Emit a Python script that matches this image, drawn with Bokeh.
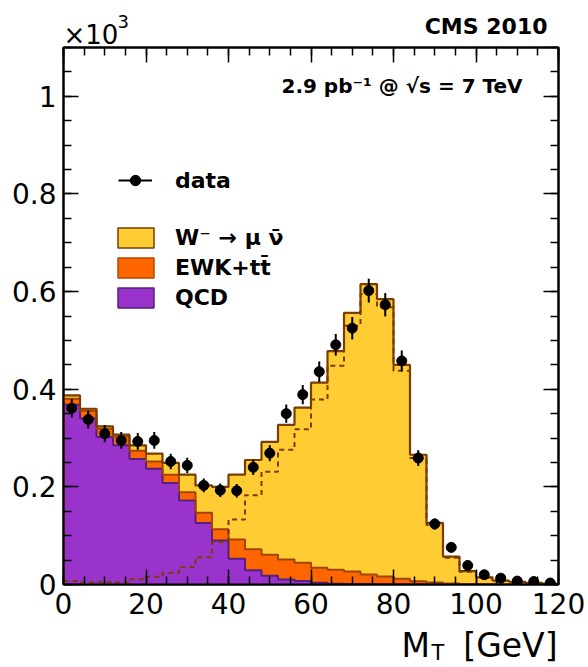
import numpy as np
from bokeh.plotting import figure
from bokeh.models import (Range1d, FixedTicker, LinearAxis, Legend,
                          LegendItem, CustomJSTickFormatter)
from bokeh.core.properties import value
from bokeh.embed import file_html
from bokeh.resources import INLINE

# ---------------- data ----------------
bin_edges = list(range(0, 124, 4))          # M_T bins [GeV], 30 bins of 4 GeV
qcd = [368, 340, 302, 285, 257, 237, 208, 172, 126, 90, 53, 29, 18, 10, 7,
       3.4, 1.5, 1.0, 0.8, 0.5, 0.4, 0.3, 0.3, 0.2, 0.2, 0.1, 0.1, 0.1, 0.1, 0.1]
ewk_tt = [12.5, 16, 17, 18, 17, 15, 17, 17, 21, 23, 39, 43, 43, 41, 37.5,
          31, 28.5, 25.6, 19.5, 16, 11.3, 6.5, 4, 2, 1, 0.8, 0.6, 0.5, 0.4, 0.3]
w_munu = [7, 4, 5, 4, 11, 16, 24, 36, 56, 87, 133, 183, 231, 276, 318,
          379, 448, 530, 595, 568, 438, 259, 122, 55, 26, 14, 7.5, 5, 3, 1.2]
data = [361, 338, 309, 295, 293, 295, 252, 244, 203, 193, 192, 240, 269, 350, 389,
        436, 491, 525, 602, 573, 458, 259, 124, 76, 39, 20, 13, 7, 6, 3]

y_major = [0, 200, 400, 600, 800, 1000]
x_major = [0, 20, 40, 60, 80, 100, 120]

# ---------------- styles ----------------
C_W, L_W = "#FFCC33", "#7A3D00"
C_EWK, L_EWK = "#FF6600", "#A04400"
C_QCD, L_QCD = "#9933CC", "#55207F"
FONT = "DejaVu Sans"

e = np.array(bin_edges, dtype=float)
left, right = e[:-1], e[1:]
centers = 0.5 * (left + right)
q = np.array(qcd, float)
t_ewk = q + np.array(ewk_tt, float)
t_w = t_ewk + np.array(w_munu, float)
d = np.array(data, float)
err = np.sqrt(d)


def outline(vals):
    xs = np.repeat(e, 2)
    ys = np.concatenate([[0.0], np.repeat(vals, 2), [0.0]])
    return xs, ys


def ext(vals):
    vals = np.asarray(vals, float)
    return np.append(vals, vals[-1])


p = figure(width=588, height=667, output_backend="svg", toolbar_location=None,
           x_range=Range1d(0, 120), y_range=Range1d(0, 1100),
           min_border_left=63, min_border_right=30, min_border_top=47,
           min_border_bottom=83)
p.xgrid.grid_line_color = None
p.ygrid.grid_line_color = None
p.outline_line_color = "black"
p.outline_line_width = 2
p.background_fill_color = "white"
p.border_fill_color = "white"

xticker = FixedTicker(ticks=x_major, minor_ticks=list(range(0, 121, 5)))
yticker = FixedTicker(ticks=y_major, minor_ticks=list(range(0, 1101, 50)))


def style_axis(ax, labels=True):
    ax.axis_line_width = 2
    ax.axis_line_color = "black"
    ax.major_tick_in = 15
    ax.major_tick_out = 0
    ax.minor_tick_in = 8
    ax.minor_tick_out = 0
    ax.major_tick_line_width = 1.5
    ax.minor_tick_line_width = 1.5
    ax.major_tick_line_color = "black"
    ax.minor_tick_line_color = "black"
    if labels:
        ax.major_label_text_font = FONT
        ax.major_label_text_font_size = "28px"
        ax.major_label_text_color = "black"
    else:
        ax.major_label_text_font_size = "0px"
        ax.formatter = CustomJSTickFormatter(code="return ''")


p.xaxis[0].ticker = xticker
p.yaxis[0].ticker = yticker
p.yaxis[0].formatter = CustomJSTickFormatter(code="return String(Math.round(tick) / 1000)")
style_axis(p.xaxis[0])
style_axis(p.yaxis[0])
p.xaxis[0].major_label_standoff = 8
p.yaxis[0].major_label_standoff = 7

ax_top = LinearAxis(ticker=xticker)
style_axis(ax_top, labels=False)
p.add_layout(ax_top, "above")
ax_right = LinearAxis(ticker=yticker)
style_axis(ax_right, labels=False)
p.add_layout(ax_right, "right")

# ---------------- stacked histogram (filled step areas) ----------------
p.varea_step(x=e, y1=ext(t_ewk), y2=ext(t_w), step_mode="after", fill_color=C_W)
p.varea_step(x=e, y1=ext(q), y2=ext(t_ewk), step_mode="after", fill_color=C_EWK)
p.varea_step(x=e, y1=ext(np.zeros_like(q)), y2=ext(q), step_mode="after", fill_color=C_QCD)

xs, ys = outline(q)
p.line(xs, ys, line_color=L_QCD, line_width=2)
xs, ys = outline(t_ewk)
p.line(xs, ys, line_color=L_EWK, line_width=2)
xs, ys = outline(t_w)
p.line(xs, ys, line_color=L_W, line_width=2.2)

# W alone, dashed
xs = np.repeat(e, 2)[1:-1]
ys = np.repeat(np.array(w_munu, float), 2)
p.line(xs, ys, line_color=L_W, line_width=2, line_dash="5 4")

# legend-only (hidden) boxes
lw = p.quad(left=left, right=right, bottom=t_ewk, top=t_w, fill_color=C_W,
            line_color=L_W, line_width=1.5, visible=False)
le = p.quad(left=left, right=right, bottom=q, top=t_ewk, fill_color=C_EWK,
            line_color="#B04A00", line_width=1.5, visible=False)
lq = p.quad(left=left, right=right, bottom=0, top=q, fill_color=C_QCD,
            line_color=L_QCD, line_width=1.5, visible=False)

# ---------------- data ----------------
seg = p.segment(x0=centers, y0=d - err, x1=centers, y1=d + err,
                line_color="black", line_width=2)
pts = p.scatter(x=centers, y=d, size=10, marker="circle", fill_color="black",
                line_color="black")

# ---------------- legends ----------------
common = dict(padding=0, margin=0, background_fill_alpha=0, border_line_color=None,
              label_text_font=FONT, label_text_font_style="bold",
              label_text_font_size="22px", label_text_color="black")
leg1 = Legend(items=[LegendItem(label="data", renderers=[seg, pts])],
              location=(55, 391), glyph_width=34, glyph_height=26,
              label_height=26, label_standoff=23, spacing=0, **common)
leg2 = Legend(items=[LegendItem(label="W\u207b \u2192 \u03bc \u03bd\u0304", renderers=[lw]),
                     LegendItem(label="EWK+tt\u0304", renderers=[le]),
                     LegendItem(label="QCD", renderers=[lq])],
              location=(50, 274), glyph_width=45, glyph_height=25,
              label_height=25, label_standoff=17, spacing=5, **common)
p.add_layout(leg1)
p.add_layout(leg2)


# ---------------- texts (overlay level so they are not clipped) ----------------
def txt(text, x, y, dx, dy, size, style="normal", align="left"):
    p.text(x=[x], y=[y], text=[text], x_offset=dx, y_offset=dy,
           text_font=value(FONT), text_font_size=value(size),
           text_font_style=style, text_align=align,
           text_baseline="alphabetic", text_color="black", level="overlay")


# anchored to frame corners: (0,1100) top-left, (120,1100) top-right, (120,0) bottom-right
txt("\u00d710", 0, 1100, 0, -13, "26px")
txt("3", 0, 1100, 54, -26, "18px")
txt("CMS 2010", 120, 1100, -11, -21, "22px", "bold", "right")
txt("2.9 pb\u207b\u00b9  @  \u221as = 7 TeV", 120, 1100, -22, 38, "20px", "bold", "right")
txt("M", 120, 0, -157, 61, "33px")
txt("T", 120, 0, -127, 68, "21px")
txt("[GeV]", 120, 0, -1, 61, "33px", align="right")

open("out.html", "w").write(file_html(p, INLINE))
